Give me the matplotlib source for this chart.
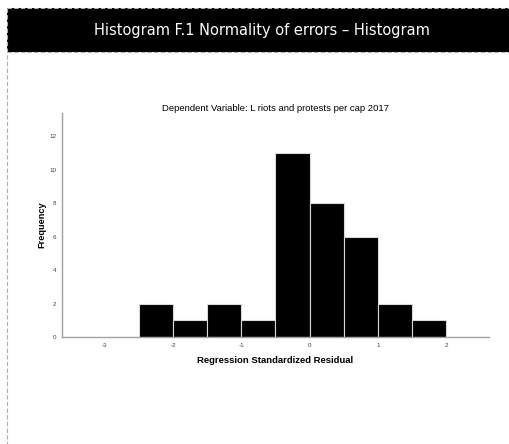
import matplotlib
matplotlib.use("Agg")
import matplotlib.pyplot as plt
from matplotlib.patches import Rectangle
from matplotlib.lines import Line2D

# ───────────── data ─────────────
BIN_EDGES = [-2.5, -2.0, -1.5, -1.0, -0.5, 0.0, 0.5, 1.0, 1.5, 2.0]
COUNTS = [2, 1, 2, 1, 11, 8, 6, 2, 1]
X_TICKS = [-3, -2, -1, 0, 1, 2]
Y_TICKS = [0, 2, 4, 6, 8, 10, 12]

HEADER = "Histogram F.1 Normality of errors – Histogram"
TITLE = "Dependent Variable: L riots and protests per cap 2017"
XLABEL = "Regression Standardized Residual"
YLABEL = "Frequency"

W, H = 510, 444
plt.rcParams["font.family"] = ["Liberation Sans", "DejaVu Sans"]
plt.rcParams["axes.unicode_minus"] = False
fig = plt.figure(figsize=(W / 100, H / 100), dpi=100)

# header band + dashed frame (figure pixel coords -> fraction)
def fx(px):
    return px / W

def fy(py):
    return 1 - py / H

fig.patches.append(Rectangle((fx(7), fy(52)), fx(510) - fx(7), fy(8) - fy(52),
                             transform=fig.transFigure, facecolor="black",
                             edgecolor="none", zorder=0))
for line in [
    Line2D([fx(7), 1], [fy(8), fy(8)]),
    Line2D([fx(7), 1], [fy(52), fy(52)]),
    Line2D([fx(7), fx(7)], [fy(8), 0]),
]:
    line.set_transform(fig.transFigure)
    line.set_color("#b0b0b0")
    line.set_linestyle((0, (4, 2)))
    line.set_linewidth(0.8)
    fig.lines.append(line)

fig.text(fx(262), fy(31), HEADER, color="white", ha="center", va="center",
         fontsize=10.5, family="DejaVu Sans")

# axes: left spine at x=62, right end 489, top 113, baseline 337
ax = fig.add_axes([fx(62), fy(337), fx(489) - fx(62), fy(113) - fy(337)])
widths = [b - a for a, b in zip(BIN_EDGES[:-1], BIN_EDGES[1:])]
ax.bar(BIN_EDGES[:-1], COUNTS, width=widths, align="edge",
       color="black", edgecolor="#d8d8d8", linewidth=0.8)
ax.set_xlim(-3.63, 2.63)
ax.set_ylim(0, 13.4)
ax.set_xticks(X_TICKS)
ax.set_yticks(Y_TICKS)
ax.tick_params(length=0, labelsize=4.5, labelcolor="#444444", pad=4)
for side in ["top", "right"]:
    ax.spines[side].set_visible(False)
for side in ["left", "bottom"]:
    ax.spines[side].set_color("#a0a0a0")
    ax.spines[side].set_linewidth(1.0)

ax.set_title(TITLE, fontsize=6.8, pad=0.5)
ax.set_xlabel(XLABEL, fontsize=6.8, fontweight="bold", labelpad=6)
ax.set_ylabel(YLABEL, fontsize=6.6, fontweight="bold", labelpad=2)

fig.savefig("out.png", dpi=100)
